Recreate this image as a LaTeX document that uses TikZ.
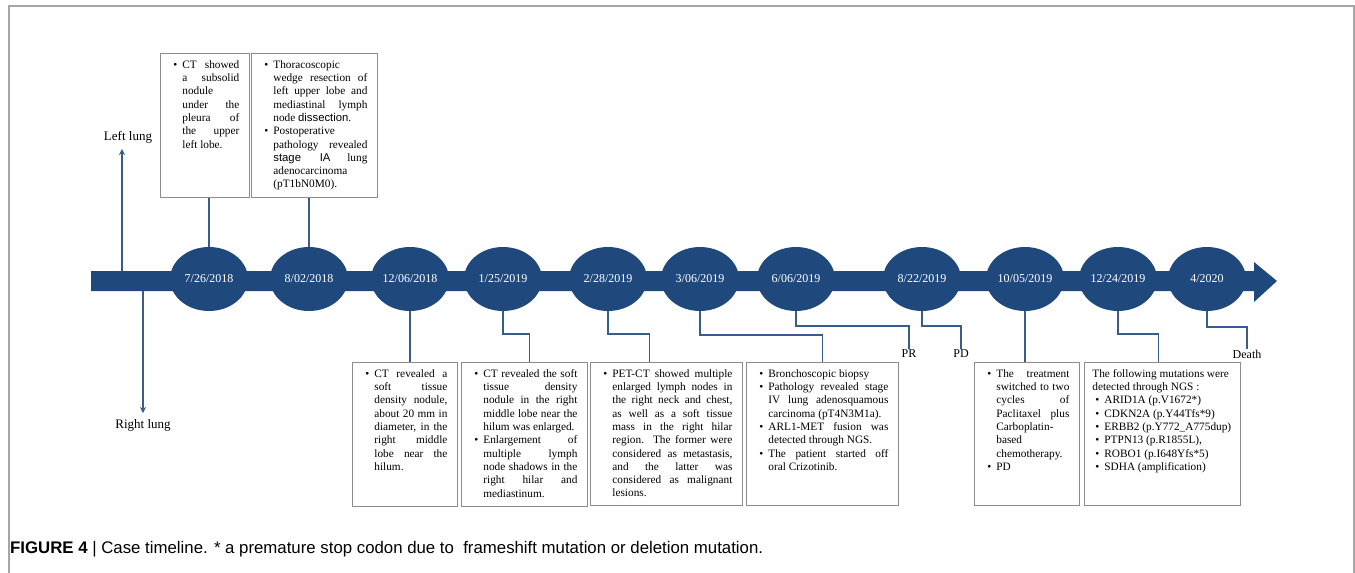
\documentclass[tikz,border=0pt]{standalone}
\usepackage{fontspec}
\setmainfont{Liberation Serif}
\setsansfont{Liberation Sans}
\newfontfamily\capfont{Liberation Sans}
\usetikzlibrary{shapes.geometric,arrows.meta}
\definecolor{tlblue}{RGB}{31,73,125}
\definecolor{lnblue}{RGB}{56,93,138}
\definecolor{boxgray}{RGB}{140,140,140}
\definecolor{framegray}{RGB}{165,165,165}
\newenvironment{bul}{\begin{list}{\textbullet}{\setlength\leftmargin{12pt}\setlength\labelsep{5pt}\setlength\labelwidth{7pt}\setlength\itemsep{0pt}\setlength\parsep{0pt}\setlength\topsep{0pt}\setlength\partopsep{0pt}}}{\end{list}}
\newcommand{\boxtxt}[3]{\parbox[t][#2][t]{#1}{\fontsize{11.3}{13.3}\selectfont\sloppy\hyphenpenalty=10000 #3\par}}
\begin{document}
\begin{tikzpicture}[x=1pt,y=-1pt,line width=.35pt,
  datenode/.style={ellipse,fill=tlblue,text=white,minimum width=78pt,minimum height=64pt,inner sep=0pt,font=\fontsize{12}{14}\selectfont},
  infobox/.style={draw=boxgray,line width=.8pt,fill=white,inner xsep=10pt,inner ysep=7pt,anchor=north west},
  link/.style={draw=lnblue,line width=1.5pt},
  small/.style={inner sep=1pt,font=\fontsize{12}{14}\selectfont}]
\useasboundingbox (0,0) rectangle (1355,573);
\draw[framegray,line width=1.2pt] (9,573)--(9,6)--(1354,6)--(1354,573);
\fill[tlblue] (91,271)--(1254,271)--(1254,262)--(1277,281)--(1254,302)--(1254,291)--(91,291)--cycle;
\node[datenode] (jul18) at (209,279) {7/26/2018};
\node[datenode] (aug18) at (309,279) {8/02/2018};
\node[datenode] (dec18) at (410,279) {12/06/2018};
\node[datenode] (jan19) at (503,279) {1/25/2019};
\node[datenode] (feb19) at (608,279) {2/28/2019};
\node[datenode] (mar19) at (700,279) {3/06/2019};
\node[datenode] (jun19) at (796,279) {6/06/2019};
\node[datenode] (aug19) at (922,279) {8/22/2019};
\node[datenode] (oct19) at (1025,279) {10/05/2019};
\node[datenode] (dec19) at (1118,279) {12/24/2019};
\node[datenode] (apr20) at (1207,279) {4/2020};
\coordinate (lup) at (122,271);
\coordinate (rdn) at (143,291);
\node[font=\fontsize{13}{15}\selectfont,inner sep=1pt] (leftlung) at (128,137) {Left lung};
\node[font=\fontsize{13}{15}\selectfont,inner sep=1pt] (rightlung) at (143,425) {Right lung};
\draw[link,-{Stealth[length=6pt,width=6pt]}] (lup) -- (lup |- 0,149);
\draw[link,-{Stealth[length=6pt,width=6pt]}] (rdn) -- (rdn |- 0,413);
\node[infobox] (bjul18) at (160,53) {\boxtxt{69pt}{130pt}{\begin{bul}\item CT showed\linebreak a subsolid\linebreak nodule\linebreak under the\linebreak pleura of\linebreak the upper\linebreak left lobe.\end{bul}}};
\node[infobox] (baug18) at (251,53) {\boxtxt{106pt}{130pt}{\begin{bul}\item Thoracoscopic\linebreak wedge resection of\linebreak left upper lobe and\linebreak mediastinal lymph\linebreak node {\sffamily dissection}.\item Postoperative\linebreak pathology revealed\linebreak {\sffamily stage IA} lung\linebreak adenocarcinoma\linebreak (pT1bN0M0).\end{bul}}};
\node[infobox] (bdec18) at (352,362) {\boxtxt{85pt}{130pt}{\begin{bul}\item CT revealed a\linebreak soft tissue\linebreak density nodule,\linebreak about 20 mm in\linebreak diameter, in the\linebreak right middle\linebreak lobe near the\linebreak hilum.\end{bul}}};
\node[infobox] (bjan19) at (461,362) {\boxtxt{106pt}{130pt}{\begin{bul}\item CT revealed the soft\linebreak tissue density\linebreak nodule in the right\linebreak middle lobe near the\linebreak hilum was enlarged.\item Enlargement of\linebreak multiple lymph\linebreak node shadows in the\linebreak right hilar and\linebreak mediastinum.\end{bul}}};
\node[infobox] (bfeb19) at (590,362) {\boxtxt{132pt}{129pt}{\begin{bul}\item PET-CT showed multiple\linebreak enlarged lymph nodes in\linebreak the right neck and chest,\linebreak as well as a soft tissue\linebreak mass in the right hilar\linebreak region. The former were\linebreak considered as metastasis,\linebreak and the latter was\linebreak considered as malignant\linebreak lesions.\end{bul}}};
\node[infobox] (bmar19) at (746,362) {\boxtxt{132pt}{129pt}{\begin{bul}\item Bronchoscopic biopsy\item Pathology revealed stage\linebreak IV lung adenosquamous\linebreak carcinoma (pT4N3M1a).\item ARL1-MET fusion was\linebreak detected through NGS.\item The patient started off\linebreak oral Crizotinib.\end{bul}}};
\node[infobox] (boct19) at (974,362) {\boxtxt{85pt}{129pt}{\begin{bul}\item The treatment\linebreak switched to two\linebreak cycles of\linebreak Paclitaxel plus\linebreak Carboplatin-\linebreak based\linebreak chemotherapy.\item PD\end{bul}}};
\node[infobox,inner xsep=8pt] (bdec19) at (1084,362) {\boxtxt{140pt}{129pt}{\raggedright The following mutations were\\ detected through NGS :\begin{bul}\item ARID1A (p.V1672*)\item CDKN2A (p.Y44Tfs*9)\item ERBB2 (p.Y772\_A775dup)\item PTPN13 (p.R1855L),\item ROBO1 (p.I648Yfs*5)\item SDHA (amplification)\end{bul}}};
\node[small] (pr) at (909,354) {PR};
\node[small] (pd) at (961,354) {PD};
\node[small] (death) at (1247,354) {Death};
\draw[link] (jul18.north) -- (jul18.north |- bjul18.south);
\draw[link] (aug18.north) -- (aug18.north |- baug18.south);
\draw[link] (dec18.south) -- (dec18.south |- bdec18.north);
\draw[link] (jan19.south) -- ++(0,23) -| ([xshift=5pt]bjan19.north);
\draw[link] (feb19.south) -- ++(0,23) -| ([xshift=-17pt]bfeb19.north);
\draw[link] (mar19.south) -- ++(0,24) -| (bmar19.north);
\draw[link] (jun19.south) -- ++(0,15) -| (pr.north);
\draw[link] (aug19.south) -- ++(0,15) -| (pd.north);
\draw[link] (oct19.south) -- (oct19.south |- boct19.north);
\draw[link] (dec19.south) -- ++(0,23) -| ([xshift=-4pt]bdec19.north);
\draw[link] (apr20.south) -- ++(0,16) -| (death.north);
\node[anchor=west,inner sep=0pt] (caption) at (10,549) {\capfont\fontsize{16.8}{19}\selectfont\textbf{FIGURE 4} | Case timeline. * a premature stop codon due to \ frameshift mutation or deletion mutation.};
\end{tikzpicture}
\end{document}
